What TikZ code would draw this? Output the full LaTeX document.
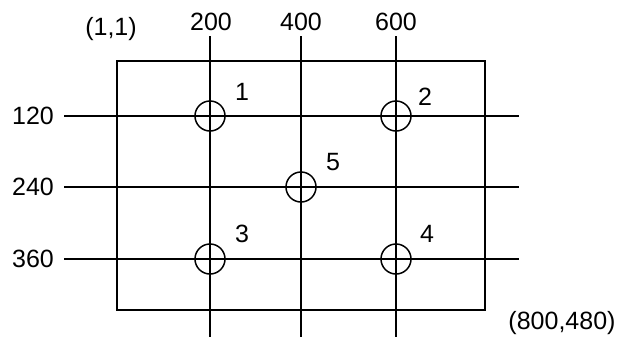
\documentclass[tikz,border=0pt]{standalone}
\usepackage{fontspec}
\setmainfont{Liberation Sans}
\begin{document}
\begin{tikzpicture}[x=1pt,y=-1pt,
  ln/.style={line width=1.5pt,black},
  hole/.style={circle,draw,line width=1.5pt,minimum size=30pt,inner sep=0pt},
  lbl/.style={font=\fontsize{25}{30}\selectfont,inner sep=0pt,anchor=center}]
\useasboundingbox (0,0) rectangle (622,338);
% frame
\draw[ln] (117,61) rectangle (485,310);
% grid line ends
\coordinate (v1t) at (210,36); \coordinate (v1b) at (210,337);
\coordinate (v2t) at (301,36); \coordinate (v2b) at (301,337);
\coordinate (v3t) at (396,36); \coordinate (v3b) at (396,337);
\coordinate (h1l) at (64,116); \coordinate (h1r) at (519,116);
\coordinate (h2l) at (64,187); \coordinate (h2r) at (519,187);
\coordinate (h3l) at (64,259); \coordinate (h3r) at (519,259);
\draw[ln] (v1t) -- (v1b);
\draw[ln] (v2t) -- (v2b);
\draw[ln] (v3t) -- (v3b);
\draw[ln] (h1l) -- (h1r);
\draw[ln] (h2l) -- (h2r);
\draw[ln] (h3l) -- (h3r);
% holes
\node[hole] (c1) at (210,116) {};
\node[hole] (c2) at (396,116) {};
\node[hole] (c5) at (301,187) {};
\node[hole] (c3) at (210,259) {};
\node[hole] (c4) at (396,259) {};
% hole numbers
\node[lbl] (n1) at (242,92) {1};
\node[lbl] (n2) at (425,97) {2};
\node[lbl] (n5) at (333,162) {5};
\node[lbl] (n3) at (242,234) {3};
\node[lbl] (n4) at (427,234) {4};
% axis labels
\node[lbl] (x1) at (211,22) {200};
\node[lbl] (x2) at (301,22) {400};
\node[lbl] (x3) at (396,22) {600};
\node[lbl] (y1) at (33,116) {120};
\node[lbl] (y2) at (33,187) {240};
\node[lbl] (y3) at (33,259) {360};
\node[lbl] (tl) at (111,29) {(1,1)};
\node[lbl] (br) at (562,323) {(800,480)};
\end{tikzpicture}
\end{document}
